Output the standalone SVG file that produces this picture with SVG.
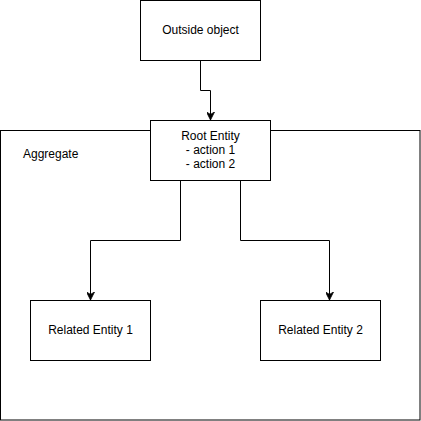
<svg xmlns="http://www.w3.org/2000/svg" width="421" height="421" viewBox="0 0 421 421">
<style>
.box{fill:#fff;stroke:#000;stroke-width:1}
.lbl{font-family:"Liberation Sans",Arial,sans-serif;font-size:12px;fill:#000}
.c{text-anchor:middle}
.edge{fill:none;stroke:#000;stroke-width:1}
</style>
<defs>
<marker id="arr" viewBox="0 0 10 10" refX="10" refY="5" markerWidth="8" markerHeight="8" markerUnits="userSpaceOnUse" orient="auto">
<path d="M0,0 L10,5 L0,10 L3,5 Z" fill="#000" stroke="#000" stroke-width="1"/>
</marker>
</defs>
<rect width="421" height="421" fill="#fff"/>
<g id="aggregate">
<rect class="box" x="0.5" y="130.5" width="419.5" height="289.5"/>
<text class="lbl" x="23" y="158">Aggregate</text>
</g>
<g id="outside">
<rect class="box" x="140.5" y="0.5" width="120" height="60"/>
<text class="lbl c" x="200.5" y="34">Outside object</text>
</g>
<g id="root">
<rect class="box" x="150.5" y="120.5" width="120" height="60"/>
<text class="lbl c" x="210.5" y="140">Root Entity</text>
<text class="lbl c" x="210.5" y="154">- action 1</text>
<text class="lbl c" x="210.5" y="168">- action 2</text>
</g>
<g id="rel1">
<rect class="box" x="30.5" y="300.5" width="120" height="60"/>
<text class="lbl c" x="90.5" y="334">Related Entity 1</text>
</g>
<g id="rel2">
<rect class="box" x="260.5" y="300.5" width="120" height="60"/>
<text class="lbl c" x="320.5" y="334">Related Entity 2</text>
</g>
<g id="connectors">
<path class="edge" d="M200.5,60.5 V90.5 H210.5 V120" marker-end="url(#arr)"/>
<path class="edge" d="M180.5,180.5 V240.5 H90.5 V300" marker-end="url(#arr)"/>
<path class="edge" d="M240.5,180.5 V240.5 H329.5 V300" marker-end="url(#arr)"/>
</g>
</svg>
